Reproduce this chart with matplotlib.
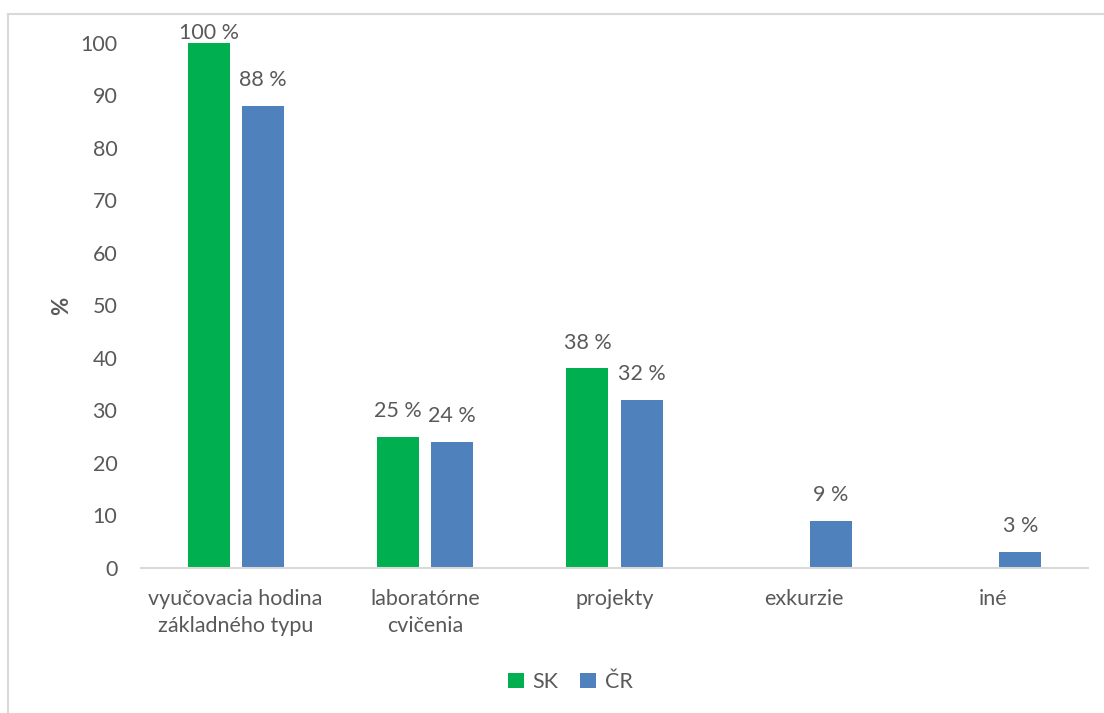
import numpy as np
import matplotlib
matplotlib.use("Agg")
import matplotlib.pyplot as plt
from matplotlib.lines import Line2D

plt.rcParams['font.family'] = ['Lato', 'DejaVu Sans']

categories = ["vyučovacia hodina\nzákladného typu", "laboratórne\ncvičenia",
              "projekty", "exkurzie", "iné"]
sk_values = [100, 25, 38, np.nan, np.nan]
cr_values = [88, 24, 32, 9, 3]
series_names = ["SK", "ČR"]
y_ticks = list(range(0, 101, 10))

TEXT = "#595959"
GREEN = "#00b050"
BLUE = "#4f81bd"
FS = 15.5

fig = plt.figure(figsize=(11.04, 7.13), dpi=100)
ax = fig.add_axes([0.1277, 0.2034, 0.8578, 0.7363])

x = np.arange(len(categories))
w = 0.222
off = 0.143
b1 = ax.bar(x - off, sk_values, w, color=GREEN, label=series_names[0])
b2 = ax.bar(x + off, cr_values, w, color=BLUE, label=series_names[1])

y_max = 100
for bars, vals in ((b1, sk_values), (b2, cr_values)):
    for rect, v in zip(bars, vals):
        if np.isnan(v):
            continue
        # keep labels inside the plot area
        ypos = min(v + 3.0, y_max)
        ax.text(rect.get_x() + rect.get_width() / 2, ypos, f"{v:g} %",
                ha="center", va="bottom", fontsize=FS, color=TEXT)

ax.set_xlim(-0.5, len(categories) - 0.5)
ax.set_ylim(0, y_max)
ax.set_yticks(y_ticks)
ax.set_xticks(x)
ax.set_xticklabels(categories, fontsize=FS, color=TEXT, linespacing=1.45)
ax.tick_params(axis='y', length=0, labelsize=FS, labelcolor=TEXT, pad=17)
ax.tick_params(axis='x', length=0, pad=15)
for s in ("top", "right", "left"):
    ax.spines[s].set_visible(False)
ax.spines["bottom"].set_color("#d9d9d9")
ax.spines["bottom"].set_linewidth(1.5)

ax.set_ylabel("%", fontsize=16, color=TEXT, fontweight="bold", labelpad=6)

leg = fig.legend(handles=[b1, b2], labels=series_names, loc="center",
                 bbox_to_anchor=(570 / 1104, 1 - 682 / 713), ncol=2, frameon=False,
                 fontsize=FS, handlelength=0.75, handleheight=0.75,
                 handletextpad=0.4, columnspacing=1.0)
for t in leg.get_texts():
    t.set_color(TEXT)

# chart frame (top and left edges fall inside the canvas)
fig.add_artist(Line2D([8 / 1104, 1], [1 - 14 / 713, 1 - 14 / 713],
                      transform=fig.transFigure, color="#d9d9d9", lw=1.5))
fig.add_artist(Line2D([8 / 1104, 8 / 1104], [0, 1 - 14 / 713],
                      transform=fig.transFigure, color="#d9d9d9", lw=1.5))

fig.savefig("out.png", dpi=100, facecolor="white")
